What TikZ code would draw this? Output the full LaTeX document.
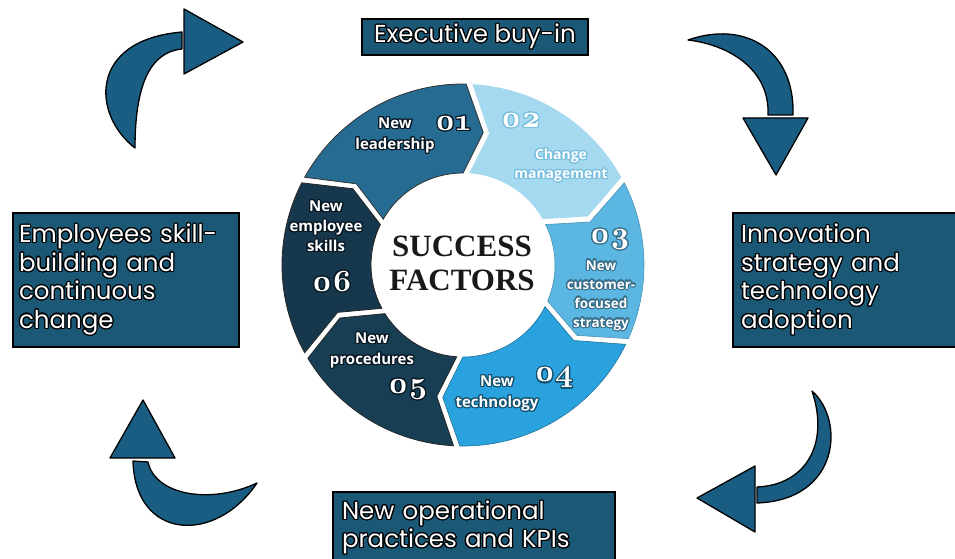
\documentclass[tikz,border=0pt]{standalone}
\usepackage{fontspec}
\usepackage[copies]{contour}
\newfontfamily\boxfont{Poppins}
\newfontfamily\segfont{Open Sans}
\newfontfamily\titlefont{Liberation Serif}
\newfontfamily\numfont{lmroman10}[Extension=.otf,UprightFont=*-regular,BoldFont=*-bold,Numbers=OldStyle]

\definecolor{boxblue}{RGB}{27,88,118}
\definecolor{arrowblue}{RGB}{25,93,130}
\definecolor{segA}{RGB}{38,108,146}
\definecolor{segB}{RGB}{164,217,239}
\definecolor{segC}{RGB}{92,182,226}
\definecolor{segD}{RGB}{42,162,221}
\definecolor{segE}{RGB}{24,62,84}
\definecolor{segF}{RGB}{22,55,76}
\definecolor{darkglow}{RGB}{8,22,34}
\definecolor{lightglow}{RGB}{120,190,222}

\contourlength{1.2pt}
\newcommand{\glowtext}[2][darkglow]{\contour{#1}{#2}}

% ring radii (outer, inner, tip)
\newcommand{\ringout}{181}
\newcommand{\ringin}{92}
\newcommand{\ringmid}{134}
% one chevron piece of the ring, clockwise from #1 to #2
\newcommand{\ringpiece}[3]{%
  \path[#3] (#1-1.0:\ringout)
    arc[start angle=#1-1.0, end angle=#2+1.0, radius=\ringout]
    -- (#2-8+1.3:\ringmid) -- (#2+1.9:\ringin)
    arc[start angle=#2+1.9, end angle=#1-1.9, radius=\ringin]
    -- (#1-8-1.3:\ringmid) -- cycle;}

\begin{document}
\begin{tikzpicture}[x=1pt,y=-1pt,
  infobox/.style={fill=boxblue, draw=black, line width=1.6pt, text=white,
    font=\boxfont\fontsize{24.5}{28.5}\selectfont, inner ysep=0pt},
  curvearrow/.style={fill=arrowblue, draw=black, line width=1.3pt, line join=round},
  seglabel/.style={text=white, align=center, inner sep=0pt,
    font=\segfont\bfseries\fontsize{15}{21}\selectfont},
  segnum/.style={text=white, inner sep=0pt,
    font=\numfont\bfseries\fontsize{31}{31}\selectfont}]
\useasboundingbox (0,0) rectangle (955,559);
\clip (0,0) rectangle (955,559);
\fill[white] (0,0) rectangle (955,559);

% ---- the six pieces of the ring ----
\begin{scope}[shift={(463,265)}, yscale=-1]
  \ringpiece{152}{88}{fill=segA, draw=black!80, line width=0.8pt}
  \ringpiece{88}{28}{fill=segB}
  \ringpiece{28}{-25}{fill=segC, draw=segC!80!black, line width=0.6pt}
  \ringpiece{-25}{-92}{fill=segD, draw=segD!70!black, line width=0.6pt}
  \ringpiece{-92}{-150}{fill=segE, draw=black!85, line width=0.8pt}
  \ringpiece{210}{152}{fill=segF, draw=black!85, line width=0.8pt}
\end{scope}

% ---- ring labels ----
\node[seglabel] (l1) at (395,136) {\glowtext{New}\\\glowtext{leadership}};
\node[segnum] (n1) at (453,124) {\glowtext{01}};
\node[seglabel, font=\segfont\bfseries\fontsize{14}{19}\selectfont] (l2) at (561,166)
  {\glowtext[lightglow]{Change}\\\glowtext[lightglow]{management}};
\node[segnum] (n2) at (521,121) {\glowtext[lightglow]{02}};
\node[segnum] (n3) at (610,240) {\glowtext[segC!60!black]{03}};
\node[seglabel, font=\segfont\bfseries\fontsize{13.5}{19}\selectfont] (l3) at (601,296)
  {\glowtext[segC!60!black]{New}\\\glowtext[segC!60!black]{customer-}\\\glowtext[segC!60!black]{focused}\\\glowtext[segC!60!black]{strategy}};
\node[seglabel] (l4) at (497,394) {\glowtext[segD!50!black]{New}\\\glowtext[segD!50!black]{technology}};
\node[segnum] (n4) at (554,378) {\glowtext[segD!50!black]{04}};
\node[seglabel] (l5) at (372,351) {\glowtext{New}\\\glowtext{procedures}};
\node[segnum] (n5) at (408,390) {\glowtext{05}};
\node[seglabel, font=\segfont\bfseries\fontsize{15}{20}\selectfont] (l6) at (326,227)
  {\glowtext{New}\\\glowtext{employee}\\\glowtext{skills}};
\node[segnum] (n6) at (332,282) {\glowtext{06}};

% ---- centre title ----
\node[align=center, inner sep=0pt, text=black!90,
  font=\titlefont\bfseries\fontsize{31}{34}\selectfont] (title) at (462,263)
  {SUCCESS\\FACTORS};

% ---- outer boxes ----
\node[infobox, minimum width=226, minimum height=36, inner xsep=0pt] (exec) at (475,37)
  {\glowtext[black]{Executive buy-in}};
\node[infobox, minimum width=226, minimum height=134, text width=214,
  inner xsep=6pt, align=left] (skill) at (126,280)
  {\glowtext[black]{Employees skill-}\\\glowtext[black]{building and}\\\glowtext[black]{continuous}\\\glowtext[black]{change}};
\node[infobox, minimum width=234, minimum height=134, text width=218,
  inner xsep=8pt, align=left] (innov) at (850,280)
  {\glowtext[black]{Innovation}\\\glowtext[black]{strategy and}\\\glowtext[black]{technology}\\\glowtext[black]{adoption}};
\node[infobox, minimum width=282, minimum height=72, text width=264,
  inner xsep=9pt, align=left] (ops) at (474,528)
  {\glowtext[black]{New operational}\\\glowtext[black]{practices and KPIs}};

% ---- curved arrows around the ring ----
% upper left, pointing right
\path[curvearrow] (135,148) .. controls (92,115) and (88,40) .. (182,32)
  -- (182,49) .. controls (150,52) and (135,85) .. (135,148) -- cycle;
\path[curvearrow] (184,9) -- (184,74) -- (243,42) -- cycle;
% upper right, pointing down
\path[curvearrow] (688,40) .. controls (745,20) and (795,50) .. (793,115)
  -- (768,115) .. controls (770,70) and (730,45) .. (688,40) -- cycle;
\path[curvearrow] (743,118) -- (808,118) -- (776,175) -- cycle;
% lower right, pointing left
\path[curvearrow] (812,391) .. controls (845,420) and (840,500) .. (757,503)
  -- (757,487) .. controls (805,485) and (830,445) .. (812,391) -- cycle;
\path[curvearrow] (755,466) -- (755,532) -- (697,498) -- cycle;
% lower left, pointing up
\path[curvearrow] (257,483) .. controls (215,545) and (135,540) .. (133,461)
  -- (148,462) .. controls (155,495) and (210,505) .. (257,483) -- cycle;
\path[curvearrow] (110,458) -- (175,458) -- (143,400) -- cycle;
\end{tikzpicture}
\end{document}
